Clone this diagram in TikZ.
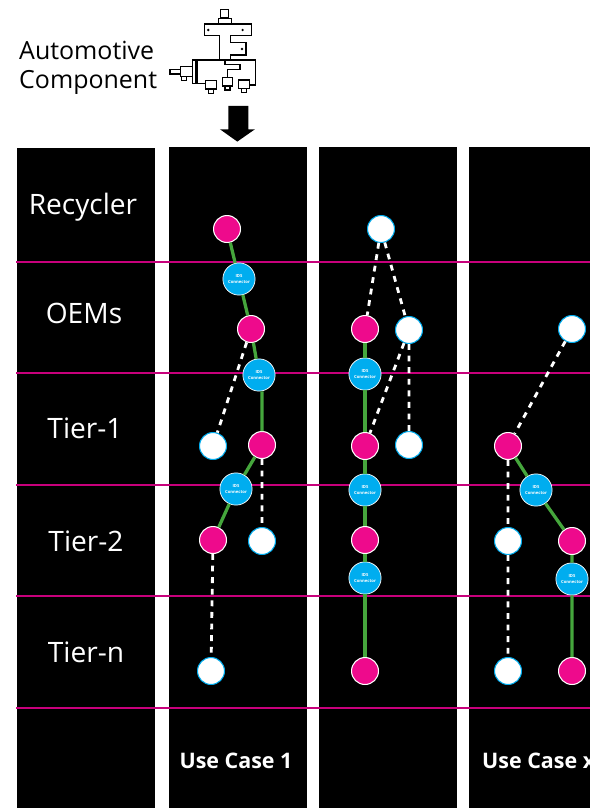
\documentclass[tikz,border=0pt]{standalone}
\usepackage{fontspec}
\setmainfont{Open Sans}
\definecolor{hotpink}{HTML}{EE0A8C}
\definecolor{rowline}{HTML}{C8007C}
\definecolor{idsblue}{HTML}{00ADEF}
\definecolor{linkgreen}{HTML}{45A63C}
\tikzset{
	tier/.style={font=\fontsize{24}{26}\selectfont,white},
	usecase/.style={font=\bfseries\fontsize{18.3}{20}\selectfont,white},
	pinknode/.style={circle,fill=hotpink,draw=white,line width=0.9pt,minimum size=23pt,inner sep=0pt},
	whitenode/.style={circle,fill=white,draw=idsblue,line width=0.9pt,minimum size=23pt,inner sep=0pt},
	idsnode/.style={circle,fill=idsblue,draw=white,line width=0.6pt,minimum size=27.5pt,inner sep=0pt,font=\bfseries\fontsize{3.6}{4.4}\selectfont,text=white,align=center},
	trusted/.style={linkgreen,line width=2.8pt},
	untrusted/.style={white,line width=2.4pt,dash pattern=on 5pt off 4.9pt},
	part/.style={line width=1.3pt,line join=miter},
}
\begin{document}
\begin{tikzpicture}[x=0.03cm,y=-0.03cm,line join=round]
	\useasboundingbox (0,0) rectangle (590,808);
	% columns and rows
	\fill[black] (17,148) rectangle (155,808);
	\foreach \xa/\xb in {169/307,319/457,469/590}
		\fill[black] (\xa,147) rectangle (\xb,808);
	\foreach \yrow in {262,373,485,596,708}
		\draw[rowline,line width=1.1pt] (16,\yrow)--(590,\yrow);
	% labels
	\node[font=\fontsize{21.3}{24.7}\selectfont,align=left,anchor=north west,inner sep=0pt] (component) at (19,41) {Automotive\\Component};
	\node[tier] (recycler) at (83,207) {Recycler};
	\node[tier] (oems) at (84,313) {OEMs};
	\node[tier] (tierone) at (85,428) {Tier-1};
	\node[tier] (tiertwo) at (86,541) {Tier-2};
	\node[tier] (tiern) at (86,652) {Tier-n};
	\node[usecase] (caseone) at (236,761) {Use Case 1};
	\node[usecase,anchor=west,inner sep=0pt] (casex) at (482,761) {Use Case x};
	% component drawing
	\begin{scope}[shift={(160,0)},x=0.01cm,y=-0.01cm]
		\draw[part] (182,28) rectangle (205,54) (175,55) rectangle (215,71);
		\draw[part] (178,180)--(178,107)--(133,107)--(133,72)--(275,72)--(275,107)--(212,107)--(212,128)--(258,128)--(258,165)--(212,165)--(212,180);
		\fill (145,90) circle (4) (248,90) circle (4) (246,147) circle (4);
		\draw[part] (137,250)--(97,250)--(97,180)--(287,180)--(287,255)--(268,255);
		\draw[line width=2pt] (110,180)--(110,250);
		\draw[part] (195,183)--(195,193)--(240,193)--(240,208)--(203,208)--(203,233);
		\draw[part] (137,242) rectangle (170,267) (145,267) rectangle (160,280);
		\draw[part] (187,233) rectangle (218,258) (195,258) rectangle (210,270);
		\draw[part] (235,240) rectangle (268,265) (245,265) rectangle (260,277);
		\draw[part] (62,200) rectangle (97,230) (30,208) rectangle (62,222) (65,230) rectangle (80,242);
		\fill (205,318)--(265,318)--(265,388)--(285,388)--(232,425)--(180,388)--(205,388)--cycle;
	\end{scope}
	% use case 1
	\node[pinknode] (aa) at (227,229) {};
	\node[idsnode] (ab) at (239,279) {IDS\\Connector};
	\node[pinknode] (ac) at (251,329) {};
	\node[idsnode] (ad) at (259,375) {IDS\\Connector};
	\node[whitenode] (ae) at (213,446) {};
	\node[pinknode] (af) at (262,445) {};
	\node[idsnode] (ag) at (236,489) {IDS\\Connector};
	\node[pinknode] (ah) at (213,540) {};
	\node[whitenode] (ai) at (262,541) {};
	\node[whitenode] (aj) at (211,671) {};
	\draw[trusted] (aa)--(ab) (ab)--(ac) (ac)--(ad) (ad.south -| af.north)--(af.north) (af)--(ag) (ag)--(ah);
	\draw[untrusted] (ac)--(ae) (af)--(ai) (ah)--(aj);
	% use case 2
	\node[whitenode] (ba) at (381,229) {};
	\node[pinknode] (bb) at (365,329) {};
	\node[whitenode] (bc) at (409,330) {};
	\node[idsnode] (bd) at (365,374) {IDS\\Connector};
	\node[pinknode] (be) at (365,446) {};
	\node[whitenode] (bf) at (409,445) {};
	\node[idsnode] (bg) at (365,490) {IDS\\Connector};
	\node[pinknode] (bh) at (365,540) {};
	\node[idsnode] (bi) at (365,578) {IDS\\Connector};
	\node[pinknode] (bj) at (365,671) {};
	\draw[trusted] (bb)--(bd) (bd)--(be) (be)--(bg) (bg)--(bh) (bh)--(bi) (bi)--(bj);
	\draw[untrusted] (ba)--(bb) (ba)--(bc) (bc)--(be) (bc)--(bf);
	% use case x
	\node[whitenode] (ca) at (572,329) {};
	\node[pinknode] (cb) at (508,446) {};
	\node[idsnode] (cc) at (536,490) {IDS\\Connector};
	\node[whitenode] (cd) at (508,541) {};
	\node[pinknode] (ce) at (572,541) {};
	\node[idsnode] (cf) at (572,579) {IDS\\Connector};
	\node[whitenode] (cg) at (508,671) {};
	\node[pinknode] (ch) at (572,671) {};
	\draw[trusted] (cb)--(cc) (cc)--(ce) (ce)--(cf) (cf)--(ch);
	\draw[untrusted] (ca)--(cb) (cb)--(cd) (cd)--(cg);
\end{tikzpicture}
\end{document}
